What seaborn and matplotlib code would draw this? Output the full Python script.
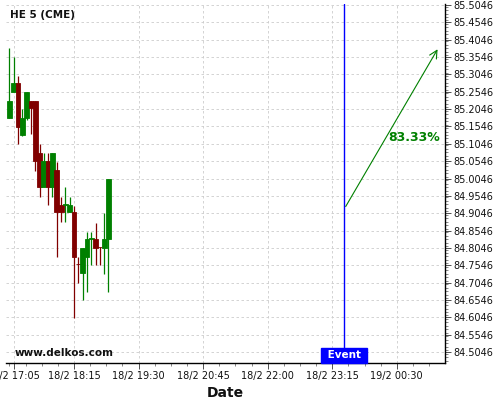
import numpy as np
import pandas as pd
import seaborn as sns
import matplotlib
matplotlib.use("Agg")
import matplotlib.pyplot as plt
import matplotlib.dates as mdates
import matplotlib.transforms as mtransforms
from matplotlib.ticker import FuncFormatter, MultipleLocator, FixedLocator

# 5 minute candles, HE 5 (CME), 18/2
START = "2025-02-18 17:00"
opens  = [85.179, 85.254, 85.280, 85.130, 85.179, 85.228, 85.228, 85.078, 84.980, 85.055, 84.980, 85.029,
          84.928, 84.929, 84.908, 84.908, 84.759, 84.732, 84.778, 84.831, 84.830, 84.808, 84.804, 84.830]
highs  = [85.381, 85.355, 85.300, 85.205, 85.254, 85.228, 85.228, 85.104, 85.078, 85.078, 85.078, 85.052,
          84.951, 84.980, 84.951, 84.925, 84.778, 84.804, 84.850, 84.850, 84.876, 84.808, 84.905, 85.003]
lows   = [85.179, 85.254, 85.104, 85.127, 85.173, 85.133, 85.026, 84.951, 84.980, 84.928, 84.951, 84.778,
          84.879, 84.879, 84.908, 84.603, 84.703, 84.654, 84.678, 84.755, 84.755, 84.755, 84.729, 84.678]
closes = [85.228, 85.280, 85.153, 85.179, 85.254, 85.208, 85.055, 84.980, 85.055, 84.980, 85.078, 84.908,
          84.908, 84.931, 84.928, 84.778, 84.757, 84.804, 84.830, 84.833, 84.804, 84.806, 84.830, 85.003]

# event and projection arrow
EVENT_TIME = "2025-02-18 23:29"
ARROW_END_TIME = "2025-02-19 01:19"
arrow_prices = [84.917, 85.384]
ARROW_LABEL = "83.33%"
ARROW_LABEL_PRICE = 85.124

tick_times = ["2025-02-18 17:05", "2025-02-18 18:15", "2025-02-18 19:30", "2025-02-18 20:45",
              "2025-02-18 22:00", "2025-02-18 23:15", "2025-02-19 00:30"]
X_MIN, X_MAX = "2025-02-18 16:56", "2025-02-19 01:26"
Y_MIN, Y_MAX = 84.473, 85.5075

df = pd.DataFrame({"open": opens, "high": highs, "low": lows, "close": closes})
df["time"] = pd.date_range(START, periods=len(df), freq="5min")
df["up"] = df["close"] >= df["open"]

GREEN = "#008000"
RED = "#800000"

sns.set_theme(style="whitegrid")
plt.rcParams['font.family'] = ['DejaVu Sans']

fig = plt.figure(figsize=(5, 4), dpi=100)
ax = fig.add_axes([0.012, 0.0925, 0.878, 0.8975])

x = mdates.date2num(df["time"])
colors = np.where(df["up"], GREEN, RED)
width = 5.6 / 1440

# wicks
ax.vlines(x, df["low"], df["high"], colors=colors, linewidth=0.9, zorder=3)
# bodies
body_bottom = np.minimum(df["open"], df["close"])
body_height = np.abs(df["close"] - df["open"])
ax.bar(x, body_height, width=width, bottom=body_bottom, color=colors,
       edgecolor=colors, linewidth=0.6, zorder=4)

# event line
ev = mdates.date2num(pd.Timestamp(EVENT_TIME))
ax.axvline(ev, color="#0000ff", linewidth=1.0, zorder=5)
trans = mtransforms.blended_transform_factory(ax.transData, ax.transAxes)
ax.annotate(" Event ", xy=(ev, 0), xycoords=trans, xytext=(0, 2.0),
            textcoords="offset points", ha="center", va="bottom",
            color="white", fontsize=7.5, fontweight="bold", zorder=6,
            bbox=dict(boxstyle="square,pad=0.25", facecolor="#0000ff", edgecolor="#0000ff"))

# projection arrow
ae = mdates.date2num(pd.Timestamp(ARROW_END_TIME))
ax.annotate("", xy=(ae, arrow_prices[1]), xytext=(ev, arrow_prices[0]),
            arrowprops=dict(arrowstyle="->", color=GREEN, linewidth=0.8,
                            mutation_scale=14), zorder=6)
ax.text(ae + 1 / 1440, ARROW_LABEL_PRICE, ARROW_LABEL, color=GREEN, fontsize=9,
        fontweight="bold", ha="right", va="center", zorder=6)

# texts
ax.text(0.01, 0.982, "HE 5 (CME)", transform=ax.transAxes, fontsize=7.5,
        fontweight="bold", ha="left", va="top", color="#111111")
ax.text(0.02, 0.015, "www.delkos.com", transform=ax.transAxes, fontsize=7.5,
        fontweight="bold", ha="left", va="bottom", color="#111111")

# axes
ax.set_xlim(mdates.date2num(pd.Timestamp(X_MIN)), mdates.date2num(pd.Timestamp(X_MAX)))
ax.set_ylim(Y_MIN, Y_MAX)

ticks = mdates.date2num(pd.to_datetime(tick_times))
ax.xaxis.set_major_locator(FixedLocator(ticks))
minor = np.arange(ticks[1] - 4 * 18.75 / 1440, ticks[-1] + 5 * 18.75 / 1440, 18.75 / 1440)
ax.xaxis.set_minor_locator(FixedLocator(minor))
ax.xaxis.set_major_formatter(FuncFormatter(
    lambda v, p: "{d.day}/{d.month} {d:%H:%M}".format(d=mdates.num2date(v))))

ax.yaxis.tick_right()
ax.yaxis.set_major_locator(FixedLocator(np.arange(84.5046, 85.51, 0.05)))
ax.yaxis.set_minor_locator(MultipleLocator(0.01))
ax.yaxis.set_major_formatter(FuncFormatter(lambda v, p: f"{v:.4f}"))

ax.tick_params(axis="both", which="major", labelsize=7, length=4, width=0.6,
               color="#333333", labelcolor="#111111", direction="out",
               bottom=True, right=True, left=False)
ax.tick_params(axis="both", which="minor", length=2, width=0.5, color="#555555",
               direction="out", bottom=True, right=True, left=False)
ax.tick_params(axis="x", pad=2)
ax.tick_params(axis="y", pad=2)

ax.set_xlabel("Date", fontsize=10, fontweight="bold", labelpad=1, color="#111111")
ax.xaxis.set_label_coords(0.5, -0.065)

ax.grid(True, which="major", color="#cccccc", linestyle=(0, (3, 3)), linewidth=0.6)
ax.set_facecolor("white")
for s in ["left", "top"]:
    ax.spines[s].set_visible(False)
for s in ["right", "bottom"]:
    ax.spines[s].set_visible(True)
    ax.spines[s].set_color("black")
    ax.spines[s].set_linewidth(1.0)

fig.savefig("out.png", dpi=100)
